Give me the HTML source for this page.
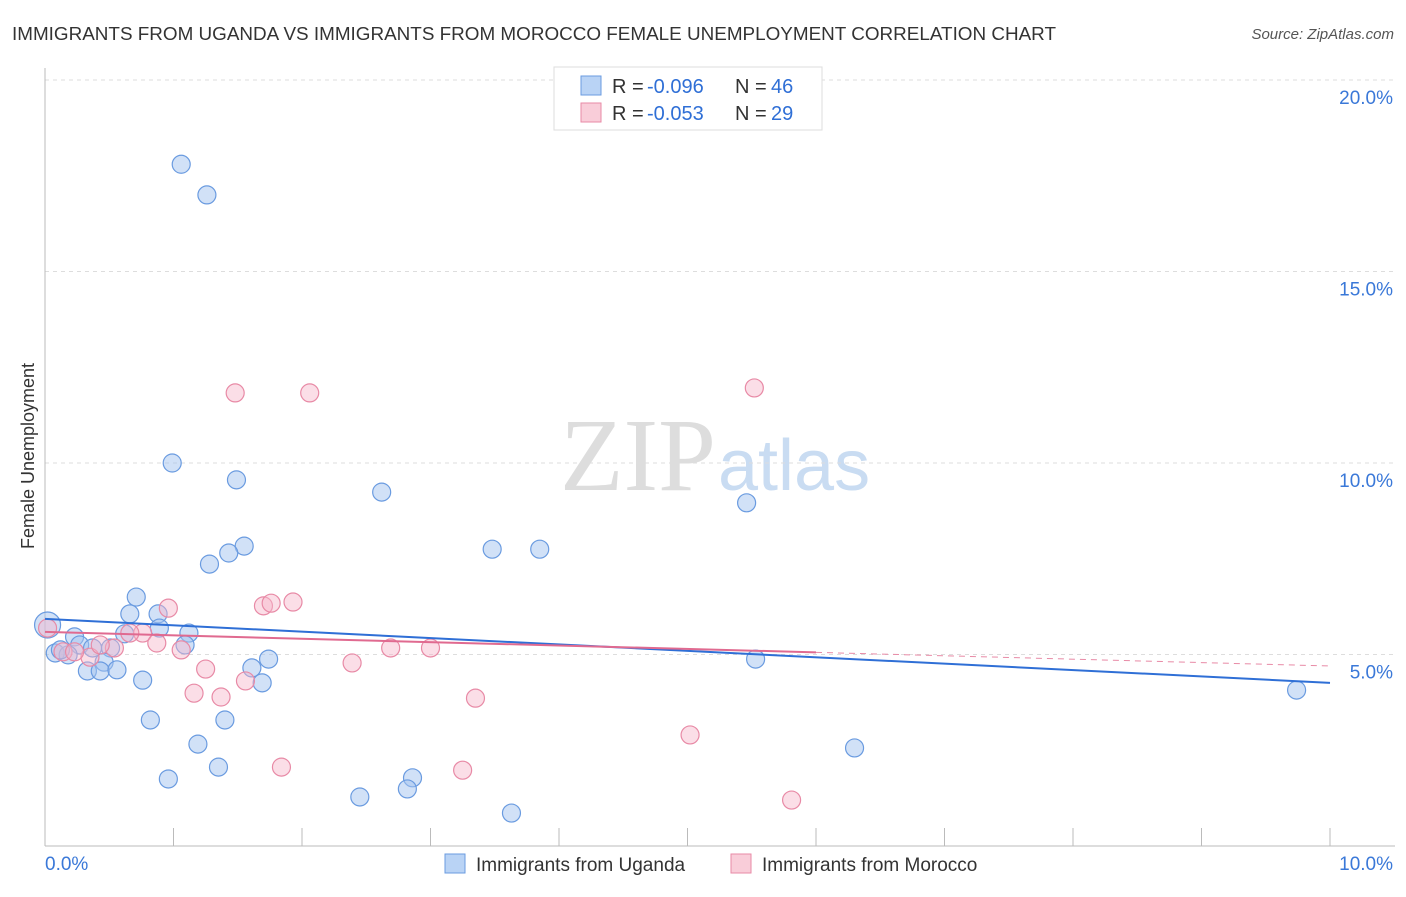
<!DOCTYPE html>
<html><head><meta charset="utf-8"><style>
body{margin:0;background:#fff;font-family:"Liberation Sans",sans-serif}
</style></head><body>
<svg width="1406" height="892" id="c" font-family="Liberation Sans, sans-serif">
<text x="12" y="40" font-size="18" fill="#333" textLength="1044" lengthAdjust="spacingAndGlyphs">IMMIGRANTS FROM UGANDA VS IMMIGRANTS FROM MOROCCO FEMALE UNEMPLOYMENT CORRELATION CHART</text>
<text x="1394" y="39" font-size="15" fill="#555" font-style="italic" text-anchor="end">Source: ZipAtlas.com</text>
<text x="716" y="490" font-size="104" fill="#ddd" font-family="Liberation Serif, serif" text-anchor="end">ZIP</text>
<text x="718" y="490" font-size="72" fill="#c9dcf2">atlas</text>
<text x="34" y="456" font-size="18" fill="#333" transform="rotate(-90 34 456)" text-anchor="middle">Female Unemployment</text>
<g id="grid"></g><g id="pts"></g><g id="lines"></g>
<g>
<rect x="554" y="67" width="268" height="63" fill="#fff" stroke="#ddd"/>
<rect x="581" y="76" width="20" height="19" fill="#b9d3f5" stroke="#6a9be0"/>
<rect x="581" y="103" width="20" height="19" fill="#f9cdd9" stroke="#e88aa6"/>
<text x="612" y="93" font-size="20" fill="#333">R =</text>
<text x="647" y="93" font-size="20" fill="#2f6fd6">-0.096</text>
<text x="735" y="93" font-size="20" fill="#333">N =</text>
<text x="771" y="93" font-size="20" fill="#2f6fd6">46</text>
<text x="612" y="120" font-size="20" fill="#333">R =</text>
<text x="647" y="120" font-size="20" fill="#2f6fd6">-0.053</text>
<text x="735" y="120" font-size="20" fill="#333">N =</text>
<text x="771" y="120" font-size="20" fill="#2f6fd6">29</text>
</g>
<g>
<rect x="445" y="854" width="20" height="19" fill="#b9d3f5" stroke="#6a9be0"/>
<text x="476" y="871" font-size="19" fill="#333">Immigrants from Uganda</text>
<rect x="731" y="854" width="20" height="19" fill="#f9cdd9" stroke="#e88aa6"/>
<text x="762" y="871" font-size="19" fill="#333">Immigrants from Morocco</text>
</g>
</svg>
<script>
const yTicks=[5,10,15,20];
const yTickLabels=["5.0%","10.0%","15.0%","20.0%"];
const ugX=[1.06,1.26,0.99,1.49,2.62,5.46,3.48,3.85,1.55,1.43,1.28,0.71,0.66,0.88,0.89,0.62,1.12,0.23,0.27,0.02,0.08,0.18,0.37,0.51,0.46,0.33,0.43,0.56,1.61,1.74,1.69,0.76,5.53,9.74,0.82,1.40,1.19,6.30,1.35,0.96,2.86,2.82,2.45,3.63,0.12,1.09];
const ugY=[17.8,17.0,10.0,9.56,9.24,8.96,7.75,7.75,7.83,7.65,7.36,6.50,6.06,6.06,5.69,5.54,5.56,5.46,5.25,5.77,5.04,4.99,5.17,5.17,4.80,4.57,4.57,4.60,4.65,4.88,4.26,4.33,4.88,4.07,3.29,3.29,2.66,2.56,2.06,1.75,1.78,1.49,1.28,0.86,5.12,5.25];
const moX=[1.48,2.06,5.52,0.96,1.70,1.76,1.93,0.76,0.87,0.66,1.06,0.54,0.35,0.14,0.23,0.02,2.39,2.69,3.00,1.25,1.56,1.16,1.37,3.35,5.02,1.84,3.25,5.81,0.43];
const moY=[11.83,11.83,11.96,6.21,6.27,6.34,6.37,5.56,5.30,5.56,5.12,5.17,4.93,5.07,5.07,5.69,4.78,5.17,5.17,4.62,4.31,3.99,3.89,3.86,2.90,2.06,1.98,1.20,5.25];
const ugTrend=[5.93,4.26];
const moTrend=[5.59,4.70];
const moSolidEnd=6.0;
const NS="http://www.w3.org/2000/svg";
const X=v=>45+v*128.5, Y=v=>846-v*38.3;
function mk(t,a,p){const e=document.createElementNS(NS,t);for(const k in a)e.setAttribute(k,a[k]);p.appendChild(e);return e;}
const grid=document.getElementById('grid');
yTicks.forEach((t,i)=>{
 const l=mk('line',{x1:45,x2:1395,y1:Y(t),y2:Y(t),stroke:'#ddd','stroke-dasharray':'4,4'},grid);
 
 
 const tx=mk('text',{x:1393,y:Y(t)+24,'font-size':19,fill:'#3a78d8','text-anchor':'end'},grid);
 tx.textContent=yTickLabels[i];
 
 
});
const ax=mk('line',{x1:45,x2:45,y1:68,y2:846,stroke:'#bbb'},grid);


const bx=mk('line',{x1:45,x2:1395,y1:846,y2:846,stroke:'#bbb'},grid);


for(let i=1;i<=10;i++){const t=mk('line',{x1:X(i),x2:X(i),y1:828,y2:846,stroke:'#bbb'},grid);
 
 }
[["0.0%",45,'start'],["10.0%",1393,'end']].forEach(a=>{const t=mk('text',{x:a[1],y:870,'font-size':19,fill:'#3a78d8','text-anchor':a[2]},grid);t.textContent=a[0];
 
 });
const pts=document.getElementById('pts');
ugX.forEach((x,i)=>{const c=mk('circle',{cx:X(x),cy:Y(ugY[i]),r:x<0.05?13:9,fill:'rgba(164,196,240,0.5)',stroke:'#6a9be0','stroke-width':1.2},pts);
 
 });
moX.forEach((x,i)=>{const c=mk('circle',{cx:X(x),cy:Y(moY[i]),r:9,fill:'rgba(246,182,202,0.45)',stroke:'#e88aa6','stroke-width':1.2},pts);
 
 });
const L=document.getElementById('lines');
const ul=mk('line',{x1:X(0),y1:Y(ugTrend[0]),x2:X(10),y2:Y(ugTrend[1]),stroke:'#2f6fd6','stroke-width':2},L);


const my=v=>moTrend[0]+(moTrend[1]-moTrend[0])*v/10;
const ml=mk('line',{x1:X(0),y1:Y(my(0)),x2:X(moSolidEnd),y2:Y(my(moSolidEnd)),stroke:'#e06a90','stroke-width':2},L);


const md=mk('line',{x1:X(moSolidEnd),y1:Y(my(moSolidEnd)),x2:X(10),y2:Y(my(10)),stroke:'#e88aa6','stroke-width':1,'stroke-dasharray':'6,5'},L);


</script>
</body></html>
